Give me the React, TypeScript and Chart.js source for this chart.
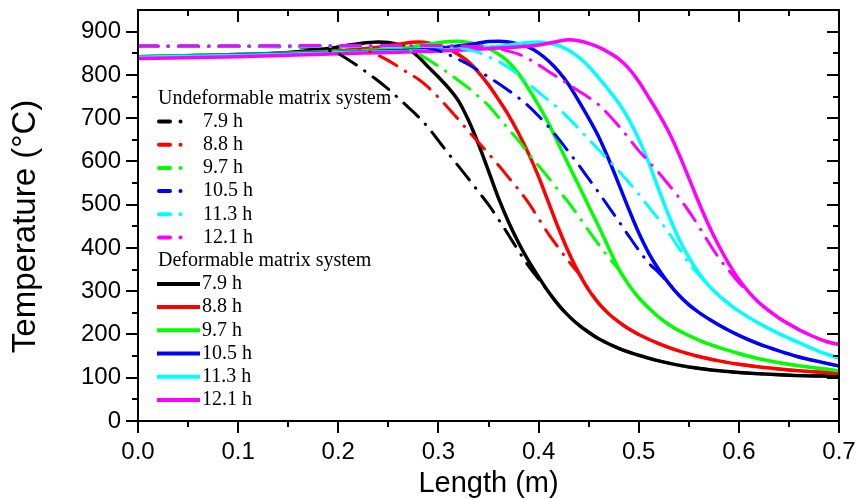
import React, { useEffect, useRef } from 'react';
import { Chart, registerables } from 'chart.js';

Chart.register(...registerables);

// ---- axis ticks ----
const xTicks = [0, 0.1, 0.2, 0.3, 0.4, 0.5, 0.6, 0.7];
const xMinorTicks = [0.05, 0.15, 0.25, 0.35, 0.45, 0.55, 0.65];
const yTicks = [0, 100, 200, 300, 400, 500, 600, 700, 800, 900];
const yMinorTicks = [50, 150, 250, 350, 450, 550, 650, 750, 850];

// ---- series meta ----
const seriesLabels = ['7.9 h', '8.8 h', '9.7 h', '10.5 h', '11.3 h', '12.1 h'];
const seriesColors = ['#000000', '#ff0000', '#00ff00', '#0000ff', '#00ffff', '#ff00ff'];
const groupTitles = ['Undeformable matrix system', 'Deformable matrix system'];
const xTitle = 'Length (m)';
const yTitle = 'Temperature (°C)';

// ---- Undeformable matrix system (dash-dot) ----
const u79X = [0, 0.1, 0.15, 0.17, 0.18, 0.19, 0.2, 0.21, 0.22, 0.23, 0.24, 0.25, 0.26, 0.27, 0.28, 0.29, 0.3, 0.31, 0.32, 0.33, 0.34, 0.35, 0.36, 0.37, 0.38, 0.39, 0.4, 0.41, 0.42, 0.43, 0.44, 0.45, 0.46, 0.48, 0.5, 0.52, 0.55, 0.6, 0.65, 0.7];
const u79Y = [866, 866, 865, 864, 862, 857, 849, 835, 820, 803, 786, 767, 746, 725, 703, 678, 648, 618, 589, 560, 530, 500, 466, 430, 393, 358, 328, 298, 268, 243, 222, 205, 190, 168, 152, 139, 125, 112, 106, 103];

const u88X = [0, 0.1, 0.2, 0.21, 0.22, 0.23, 0.24, 0.25, 0.26, 0.27, 0.28, 0.29, 0.3, 0.31, 0.32, 0.33, 0.34, 0.35, 0.36, 0.37, 0.38, 0.39, 0.4, 0.41, 0.42, 0.43, 0.44, 0.45, 0.46, 0.47, 0.48, 0.49, 0.5, 0.52, 0.54, 0.56, 0.58, 0.6, 0.65, 0.7];
const u88Y = [866, 866, 866, 865, 862, 855, 845, 833, 819, 804, 790, 771, 748, 723, 697, 670, 644, 618, 591, 563, 535, 504, 468, 432, 400, 369, 341, 305, 273, 248, 229, 213, 200, 179, 162, 149, 139, 131, 118, 110];

const u97X = [0, 0.1, 0.2, 0.25, 0.26, 0.27, 0.28, 0.29, 0.3, 0.31, 0.32, 0.33, 0.34, 0.35, 0.36, 0.37, 0.38, 0.39, 0.4, 0.41, 0.42, 0.43, 0.44, 0.45, 0.46, 0.47, 0.48, 0.49, 0.5, 0.51, 0.52, 0.53, 0.54, 0.56, 0.58, 0.6, 0.62, 0.65, 0.7];
const u97Y = [866, 866, 866, 866, 864, 858, 848, 835, 820, 804, 787, 770, 750, 729, 702, 675, 648, 618, 590, 562, 533, 505, 473, 440, 408, 378, 350, 315, 285, 261, 240, 223, 209, 187, 170, 156, 144, 131, 116];

const u105X = [0, 0.1, 0.2, 0.28, 0.29, 0.3, 0.31, 0.32, 0.33, 0.34, 0.35, 0.36, 0.37, 0.38, 0.39, 0.4, 0.41, 0.42, 0.43, 0.44, 0.45, 0.46, 0.47, 0.48, 0.49, 0.5, 0.51, 0.52, 0.53, 0.54, 0.55, 0.56, 0.58, 0.6, 0.62, 0.64, 0.66, 0.7];
const u105Y = [866, 866, 866, 865, 862, 856, 847, 836, 824, 810, 795, 780, 764, 747, 728, 705, 680, 652, 622, 592, 560, 528, 495, 462, 428, 395, 365, 343, 318, 291, 269, 251, 222, 198, 178, 162, 148, 127];

const u113X = [0, 0.1, 0.2, 0.3, 0.32, 0.33, 0.34, 0.35, 0.36, 0.37, 0.38, 0.39, 0.4, 0.41, 0.42, 0.43, 0.44, 0.45, 0.46, 0.47, 0.48, 0.49, 0.5, 0.51, 0.52, 0.53, 0.54, 0.55, 0.56, 0.57, 0.58, 0.59, 0.6, 0.62, 0.64, 0.66, 0.68, 0.7];
const u113Y = [866, 866, 866, 865, 862, 858, 852, 842, 831, 817, 800, 780, 760, 741, 722, 700, 676, 651, 627, 603, 578, 552, 524, 495, 466, 435, 400, 365, 338, 313, 290, 271, 254, 226, 202, 181, 161, 145];

const u121X = [0, 0.1, 0.2, 0.3, 0.34, 0.36, 0.37, 0.38, 0.39, 0.4, 0.41, 0.42, 0.43, 0.44, 0.45, 0.46, 0.47, 0.48, 0.49, 0.5, 0.51, 0.52, 0.53, 0.54, 0.55, 0.56, 0.57, 0.58, 0.59, 0.6, 0.61, 0.62, 0.63, 0.64, 0.65, 0.66, 0.67, 0.68, 0.69, 0.7];
const u121Y = [867, 867, 868, 868, 865, 860, 855, 848, 837, 823, 808, 793, 778, 763, 748, 731, 708, 682, 654, 625, 600, 574, 546, 517, 485, 450, 412, 377, 348, 320, 297, 274, 255, 238, 224, 211, 200, 190, 182, 177];

// ---- Deformable matrix system (solid) ----
const d79X = [0, 0.05, 0.1, 0.15, 0.19, 0.22, 0.24, 0.25, 0.26, 0.27, 0.28, 0.29, 0.3, 0.31, 0.32, 0.33, 0.34, 0.35, 0.36, 0.37, 0.38, 0.39, 0.4, 0.41, 0.42, 0.43, 0.44, 0.45, 0.46, 0.48, 0.5, 0.52, 0.55, 0.6, 0.65, 0.7];
const d79Y = [842, 844, 847, 852, 861, 872, 876, 875, 870, 860, 842, 818, 795, 770, 740, 695, 640, 578, 515, 460, 412, 370, 333, 298, 268, 243, 222, 205, 190, 168, 152, 139, 125, 112, 106, 103];

const d88X = [0, 0.1, 0.2, 0.24, 0.26, 0.28, 0.29, 0.3, 0.31, 0.32, 0.33, 0.34, 0.35, 0.36, 0.37, 0.38, 0.39, 0.4, 0.41, 0.42, 0.43, 0.44, 0.45, 0.46, 0.47, 0.48, 0.49, 0.5, 0.52, 0.54, 0.56, 0.58, 0.6, 0.65, 0.7];
const d88Y = [842, 847, 856, 864, 871, 876, 874, 868, 860, 847, 830, 806, 777, 743, 707, 665, 618, 565, 505, 445, 390, 343, 303, 272, 248, 229, 213, 200, 179, 162, 149, 139, 131, 118, 110];

const d97X = [0, 0.1, 0.2, 0.26, 0.29, 0.31, 0.32, 0.33, 0.34, 0.35, 0.36, 0.37, 0.38, 0.39, 0.4, 0.41, 0.42, 0.43, 0.44, 0.45, 0.46, 0.47, 0.48, 0.49, 0.5, 0.51, 0.52, 0.53, 0.54, 0.56, 0.58, 0.6, 0.62, 0.65, 0.7];
const d97Y = [842, 847, 854, 861, 871, 877, 878, 875, 870, 861, 848, 830, 803, 768, 730, 688, 640, 592, 545, 497, 450, 400, 352, 315, 285, 261, 240, 223, 209, 187, 170, 156, 144, 131, 116];

const d105X = [0, 0.1, 0.2, 0.3, 0.33, 0.35, 0.36, 0.37, 0.38, 0.39, 0.4, 0.41, 0.42, 0.43, 0.44, 0.45, 0.46, 0.47, 0.48, 0.49, 0.5, 0.51, 0.52, 0.53, 0.54, 0.55, 0.56, 0.58, 0.6, 0.62, 0.64, 0.66, 0.7];
const d105Y = [841, 846, 852, 861, 870, 877, 878, 876, 871, 864, 851, 832, 808, 778, 740, 700, 657, 605, 548, 490, 435, 388, 350, 318, 291, 269, 251, 222, 198, 178, 162, 148, 127];

const d113X = [0, 0.1, 0.2, 0.3, 0.36, 0.39, 0.4, 0.41, 0.42, 0.43, 0.44, 0.45, 0.46, 0.47, 0.48, 0.49, 0.5, 0.51, 0.52, 0.53, 0.54, 0.55, 0.56, 0.57, 0.58, 0.59, 0.6, 0.62, 0.64, 0.66, 0.68, 0.7];
const d113Y = [841, 845, 851, 857, 866, 875, 876, 873, 868, 857, 841, 820, 793, 765, 735, 698, 652, 597, 535, 475, 422, 378, 342, 313, 290, 271, 254, 226, 202, 181, 161, 145];

const d121X = [0, 0.1, 0.2, 0.3, 0.36, 0.4, 0.42, 0.43, 0.44, 0.45, 0.46, 0.47, 0.48, 0.49, 0.5, 0.51, 0.52, 0.53, 0.54, 0.55, 0.56, 0.57, 0.58, 0.59, 0.6, 0.61, 0.62, 0.63, 0.64, 0.65, 0.66, 0.67, 0.68, 0.69, 0.7];
const d121Y = [838, 842, 849, 855, 862, 869, 878, 881, 879, 873, 864, 852, 837, 815, 785, 748, 710, 668, 618, 562, 505, 452, 405, 363, 327, 298, 274, 255, 238, 224, 211, 200, 190, 182, 177];

const undeformable = [[u79X, u79Y], [u88X, u88Y], [u97X, u97Y], [u105X, u105Y], [u113X, u113Y], [u121X, u121Y]];
const deformable = [[d79X, d79Y], [d88X, d88Y], [d97X, d97Y], [d105X, d105Y], [d113X, d113Y], [d121X, d121Y]];

const DASH_DOT = [20, 10, 0.5, 10];
const SANS = "'Liberation Sans', Arial, Helvetica, sans-serif";
const SERIF = "'Liberation Serif', 'Times New Roman', Times, serif";

const toPoints = (xs: number[], ys: number[]) => xs.map((x, i) => ({ x, y: ys[i] }));

const frameLegendPlugin = {
  id: 'frameLegend',
  afterDraw(chart: any) {
    const { ctx, chartArea: a, scales } = chart;
    const xs = scales.x;
    const ys = scales.y;
    ctx.save();
    ctx.strokeStyle = '#000';
    ctx.lineWidth = 2;
    ctx.lineCap = 'butt';
    ctx.setLineDash([]);
    ctx.strokeRect(a.left, a.top, a.right - a.left, a.bottom - a.top);
    ctx.beginPath();
    const xTick = (v: number, len: number) => {
      const px = Math.round(xs.getPixelForValue(v));
      ctx.moveTo(px, a.bottom);
      ctx.lineTo(px, a.bottom + len);
      ctx.moveTo(px, a.top);
      ctx.lineTo(px, a.top + len);
    };
    const yTick = (v: number, len: number) => {
      const py = Math.round(ys.getPixelForValue(v));
      ctx.moveTo(a.left, py);
      ctx.lineTo(a.left - len, py);
      ctx.moveTo(a.right, py);
      ctx.lineTo(a.right - len, py);
    };
    xTicks.forEach((v) => xTick(v, 12));
    xMinorTicks.forEach((v) => xTick(v, 6));
    yTicks.forEach((v) => yTick(v, 12));
    yMinorTicks.forEach((v) => yTick(v, 6));
    ctx.stroke();

    // y axis title
    ctx.save();
    ctx.translate(26, 226.5);
    ctx.rotate(-Math.PI / 2);
    ctx.font = `33px ${SANS}`;
    ctx.fillStyle = '#000';
    ctx.textAlign = 'center';
    ctx.textBaseline = 'middle';
    ctx.fillText(yTitle, 0, 0);
    ctx.restore();

    // legend
    const rowY = (k: number) => 98.3 + 23.2 * k;
    ctx.font = `20px ${SERIF}`;
    ctx.fillStyle = '#000';
    ctx.textBaseline = 'middle';
    ctx.textAlign = 'left';
    ctx.fillText(groupTitles[0], 158, rowY(0));
    ctx.fillText(groupTitles[1], 158, rowY(7));
    seriesLabels.forEach((label, i) => {
      const yU = rowY(1 + i);
      const yD = rowY(8 + i);
      ctx.strokeStyle = seriesColors[i];
      ctx.fillStyle = seriesColors[i];
      ctx.lineWidth = 4;
      ctx.lineCap = 'round';
      ctx.beginPath();
      ctx.moveTo(159, yU);
      ctx.lineTo(170, yU);
      ctx.stroke();
      ctx.beginPath();
      ctx.arc(180.5, yU, 2, 0, Math.PI * 2);
      ctx.fill();
      ctx.lineCap = 'butt';
      ctx.beginPath();
      ctx.moveTo(157, yD);
      ctx.lineTo(200, yD);
      ctx.stroke();
      ctx.fillStyle = '#000';
      ctx.fillText(label, 203, yU);
      ctx.fillText(label, 202, yD);
    });
    ctx.restore();
  },
};

export default function App() {
  const canvasRef = useRef<HTMLCanvasElement | null>(null);

  useEffect(() => {
    const canvas = canvasRef.current;
    if (!canvas) return;

    const datasets: any[] = [];
    undeformable.forEach(([xs, ys], i) => {
      datasets.push({
        label: `Undeformable ${seriesLabels[i]}`,
        data: toPoints(xs, ys),
        borderColor: seriesColors[i],
        backgroundColor: seriesColors[i],
        borderWidth: 3,
        borderDash: DASH_DOT,
        borderCapStyle: 'round',
        pointRadius: 0,
        fill: false,
        cubicInterpolationMode: 'monotone',
        order: 10 - i,
      });
    });
    deformable.forEach(([xs, ys], i) => {
      datasets.push({
        label: `Deformable ${seriesLabels[i]}`,
        data: toPoints(xs, ys),
        borderColor: seriesColors[i],
        backgroundColor: seriesColors[i],
        borderWidth: 3.5,
        pointRadius: 0,
        fill: false,
        cubicInterpolationMode: 'monotone',
        order: 20 - i,
      });
    });

    const chart = new Chart(canvas, {
      type: 'line',
      data: { datasets },
      options: {
        animation: false,
        responsive: false,
        devicePixelRatio: 1,
        layout: { padding: { top: 10, right: 18, left: 0, bottom: 0 } },
        plugins: {
          legend: { display: false },
          tooltip: { enabled: false },
        },
        scales: {
          x: {
            type: 'linear',
            position: 'bottom',
            min: 0,
            max: 0.7,
            afterBuildTicks: (s: any) => {
              s.ticks = xTicks.map((v) => ({ value: v }));
            },
            afterFit: (s: any) => {
              s.height = 78;
              s.paddingLeft = 0;
              s.paddingRight = 0;
            },
            grid: { display: false, drawTicks: true, tickLength: 12 },
            border: { display: false },
            ticks: {
              color: '#000',
              font: { family: SANS, size: 24 },
              padding: 5,
              maxRotation: 0,
              autoSkip: false,
              callback: (v: any) => Number(v).toFixed(1),
            },
            title: {
              display: true,
              text: xTitle,
              color: '#000',
              font: { family: SANS, size: 29 },
              padding: { top: 0, bottom: -2 },
            },
          },
          y: {
            type: 'linear',
            position: 'left',
            min: 0,
            max: 950,
            afterBuildTicks: (s: any) => {
              s.ticks = yTicks.map((v) => ({ value: v }));
            },
            afterFit: (s: any) => {
              s.width = 138;
              s.paddingTop = 0;
              s.paddingBottom = 0;
            },
            grid: { display: false, drawTicks: true, tickLength: 12 },
            border: { display: false },
            ticks: {
              color: '#000',
              font: { family: SANS, size: 24 },
              padding: 5,
              autoSkip: false,
              callback: (v: any) => String(v),
            },
            title: { display: false },
          },
        },
      },
      plugins: [frameLegendPlugin],
    });

    return () => chart.destroy();
  }, []);

  return (
    <div style={{ position: 'fixed', left: 0, top: 0, width: 857, height: 499, background: '#fff' }}>
      <canvas ref={canvasRef} width={857} height={499} style={{ display: 'block' }} />
    </div>
  );
}
